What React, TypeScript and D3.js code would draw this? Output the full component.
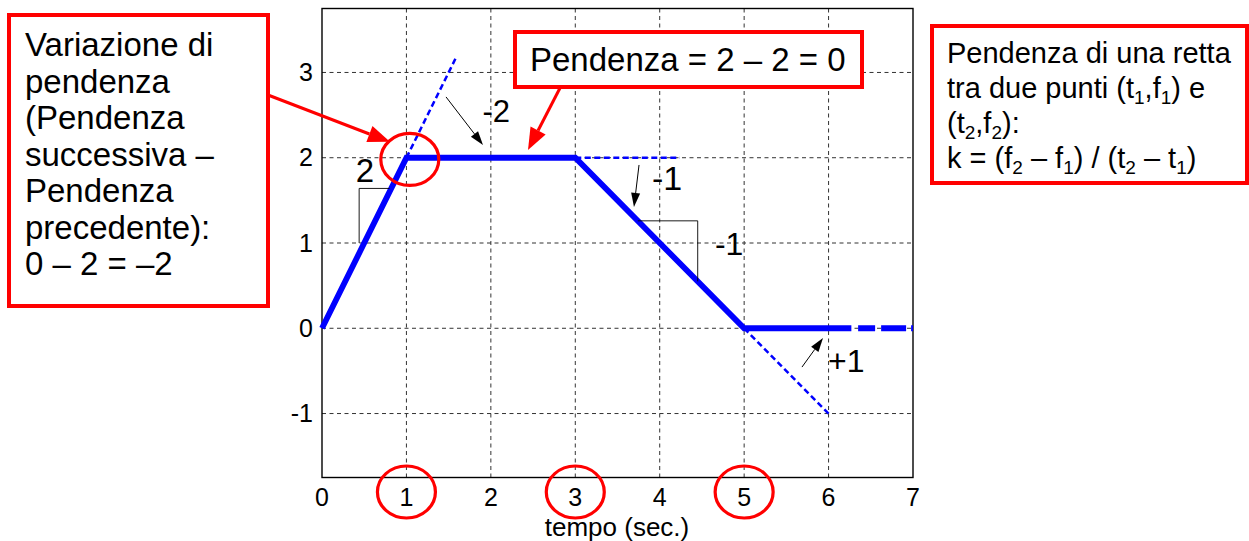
import React from "react";
import * as d3 from "d3";

// ---- data ----
const knotTimes = [0, 1, 3, 5, 6.27];
const knotValues = [0, 2, 2, 0, 0];
const tailTimes = [6.35, 7];
const tailValues = [0, 0];
const ext1Times = [1, 1.58];
const ext1Values = [2, 3.16];
const ext2Times = [3, 4.24];
const ext2Values = [2, 2];
const ext3Times = [5, 6];
const ext3Values = [0, -1];
const xTicks = [0, 1, 2, 3, 4, 5, 6, 7];
const yTicks = [-1, 0, 1, 2, 3];
const circledTicks = [1, 3, 5];
const xLabel = "tempo (sec.)";
const leftBoxLines = [
  "Variazione di",
  "pendenza",
  "(Pendenza",
  "successiva –",
  "Pendenza",
  "precedente):",
  "0 – 2 = –2",
];
const midBoxText = "Pendenza = 2 – 2 = 0";

const FONT = "'Liberation Sans', Arial, Helvetica, sans-serif";
const BLUE = "#0000ff";
const RED = "#ff0000";

function arrowHead(x1: number, y1: number, x2: number, y2: number, len: number, w: number) {
  const dx = x2 - x1, dy = y2 - y1;
  const L = Math.hypot(dx, dy);
  const ux = dx / L, uy = dy / L;
  const bx = x2 - ux * len, by = y2 - uy * len;
  const px = -uy * w / 2, py = ux * w / 2;
  return {
    base: [bx, by],
    points: `${x2},${y2} ${bx + px},${by + py} ${bx - px},${by - py}`,
  };
}

function Arrow({ x1, y1, x2, y2, color, sw, len, w }: any) {
  const h = arrowHead(x1, y1, x2, y2, len, w);
  return (
    <g>
      <line x1={x1} y1={y1} x2={h.base[0]} y2={h.base[1]} stroke={color} strokeWidth={sw} />
      <polygon points={h.points} fill={color} />
    </g>
  );
}

export default function App() {
  const W = 1249, H = 541;
  const x = d3.scaleLinear().domain([0, 7]).range([322, 913]);
  const y = d3.scaleLinear().domain([-1.75, 3.75]).range([477.5, 8.5]);
  const line = d3.line<[number, number]>().x((d) => x(d[0])).y((d) => y(d[1]));
  const zip = (a: number[], b: number[]) => a.map((v, i) => [v, b[i]] as [number, number]);

  const [x0, x1] = x.range();
  const [yb, yt] = y.range();
  const sub = 19;

  return (
    <svg width={W} height={H} style={{ position: "absolute", left: 0, top: 0, background: "#fff" }} fontFamily={FONT}>
      <rect x={0} y={0} width={W} height={H} fill="#fff" />
      {/* grid */}
      <g stroke="#333" strokeWidth={1} strokeDasharray="4,3.5">
        {xTicks.filter((t) => t > 0 && t < 7).map((t) => (
          <line key={"gx" + t} x1={x(t)} x2={x(t)} y1={yt} y2={yb} />
        ))}
        {yTicks.map((t) => (
          <line key={"gy" + t} x1={x0} x2={x1} y1={y(t)} y2={y(t)} />
        ))}
      </g>
      {/* axes box */}
      <rect x={x0} y={yt} width={x1 - x0} height={yb - yt} fill="none" stroke="#000" strokeWidth={1.4} />
      {/* tick labels */}
      <g fontSize={25} fill="#000">
        {xTicks.map((t) => (
          <text key={"tx" + t} x={x(t)} y={506} textAnchor="middle">{t}</text>
        ))}
        {yTicks.map((t) => (
          <text key={"ty" + t} x={313} y={y(t) + 8.5} textAnchor="end">{t}</text>
        ))}
      </g>
      <text x={617} y={536} fontSize={26} textAnchor="middle">{xLabel}</text>

      {/* dashed extensions */}
      <g fill="none" stroke={BLUE} strokeWidth={2.5} strokeDasharray="6,3.5">
        <path d={line(zip(ext1Times, ext1Values))!} />
        <path d={line(zip(ext2Times, ext2Values))!} />
        <path d={line(zip(ext3Times, ext3Values))!} />
      </g>
      {/* main signal */}
      <path d={line(zip(knotTimes, knotValues))!} fill="none" stroke={BLUE} strokeWidth={5.8} strokeLinejoin="miter" />
      <path d={line(zip(tailTimes, tailValues))!} fill="none" stroke={BLUE} strokeWidth={5.8} strokeDasharray="17,6,25,5,9" />

      {/* slope triangles */}
      <g stroke="#000" strokeWidth={0.9} fill="none">
        <path d={line([[0.8, 1.64], [0.44, 1.64], [0.44, 1.0]])!} />
        <path d={line([[3.74, 1.26], [4.45, 1.26], [4.45, 0.55]])!} />
      </g>
      {/* slope labels */}
      <g fill="#000">
        <text x={x(0.509)} y={y(1.716)} fontSize={33} textAnchor="middle">2</text>
        <text x={x(1.9)} y={y(2.42)} fontSize={31}>-2</text>
        <text x={x(3.908)} y={y(1.622)} fontSize={34}>-1</text>
        <text x={x(4.654)} y={y(0.859)} fontSize={32}>-1</text>
        <text x={x(5.993)} y={y(-0.513)} fontSize={32}>+1</text>
      </g>
      {/* black arrows */}
      <Arrow x1={x(1.469)} y1={y(2.713)} x2={x(1.907)} y2={y(2.149)} color="#000" sw={1} len={14} w={9} />
      <Arrow x1={x(3.755)} y1={y(1.915)} x2={x(3.695)} y2={y(1.423)} color="#000" sw={1} len={14} w={9} />
      <Arrow x1={x(5.685)} y1={y(-0.455)} x2={x(5.934)} y2={y(-0.114)} color="#000" sw={1} len={14} w={9} />

      {/* red circles */}
      <g fill="none" stroke={RED} strokeWidth={3.2}>
        <ellipse cx={x(1.04)} cy={y(1.98)} rx={29} ry={26} />
        {circledTicks.map((t) => (
          <ellipse key={"c" + t} cx={x(t)} cy={492} rx={29} ry={26} />
        ))}
      </g>

      {/* left box */}
      <rect x={9} y={15} width={259} height={291} fill="#fff" stroke={RED} strokeWidth={4} />
      <g fontSize={33} fill="#000">
        {leftBoxLines.map((s, i) => (
          <text key={"l" + i} x={25} y={56 + i * 36.5}>{s}</text>
        ))}
      </g>
      <Arrow x1={268} y1={95} x2={x(0.805)} y2={y(2.186)} color={RED} sw={3} len={22} w={17} />

      {/* middle box */}
      <rect x={515} y={32} width={347} height={55} fill="#fff" stroke={RED} strokeWidth={4} />
      <text x={530} y={71} fontSize={33} fill="#000">{midBoxText}</text>
      <Arrow x1={560} y1={88} x2={x(2.44)} y2={y(2.09)} color={RED} sw={3} len={22} w={17} />

      {/* right box */}
      <rect x={932} y={26} width={315} height={157} fill="#fff" stroke={RED} strokeWidth={4} />
      <g fontSize={29} fill="#000">
        <text x={947} y={63}>Pendenza di una retta</text>
        <text x={947} y={98}>
          tra due punti (t<tspan fontSize={sub} dy={6}>1</tspan>
          <tspan dy={-6}>,f</tspan><tspan fontSize={sub} dy={6}>1</tspan>
          <tspan dy={-6}>) e</tspan>
        </text>
        <text x={947} y={133}>
          (t<tspan fontSize={sub} dy={6}>2</tspan>
          <tspan dy={-6}>,f</tspan><tspan fontSize={sub} dy={6}>2</tspan>
          <tspan dy={-6}>):</tspan>
        </text>
        <text x={947} y={168}>
          k = (f<tspan fontSize={sub} dy={6}>2</tspan>
          <tspan dy={-6}> – f</tspan><tspan fontSize={sub} dy={6}>1</tspan>
          <tspan dy={-6}>) / (t</tspan><tspan fontSize={sub} dy={6}>2</tspan>
          <tspan dy={-6}> – t</tspan><tspan fontSize={sub} dy={6}>1</tspan>
          <tspan dy={-6}>)</tspan>
        </text>
      </g>
    </svg>
  );
}
